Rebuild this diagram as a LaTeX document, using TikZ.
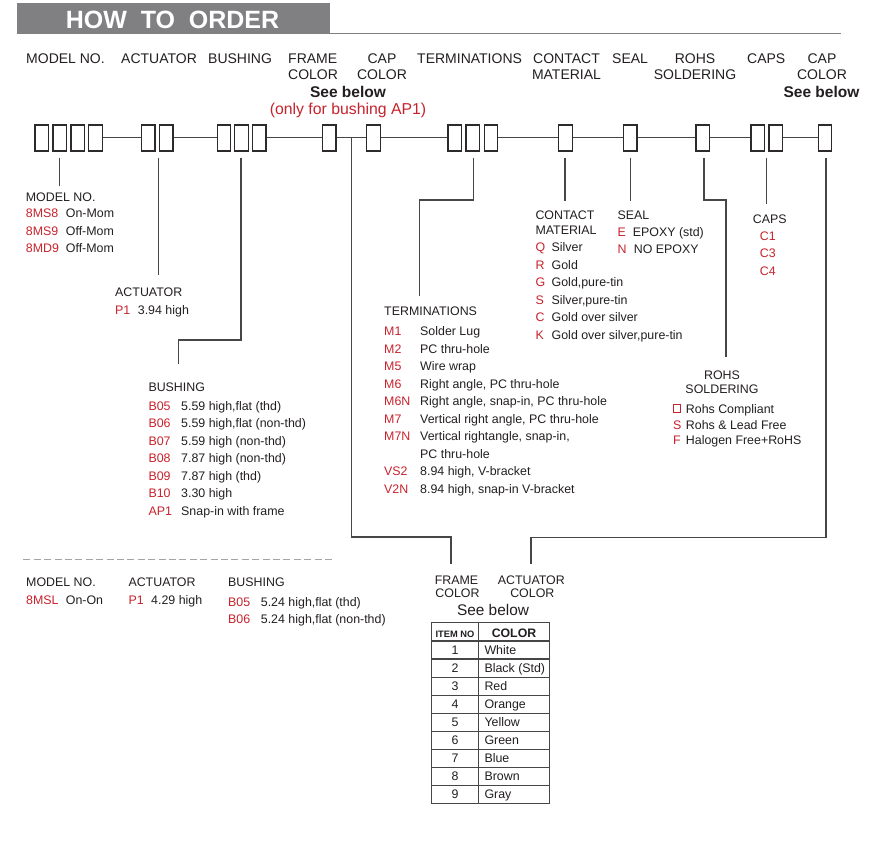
\documentclass[tikz,border=0pt]{standalone}
\usepackage{fontspec}
\setmainfont{Liberation Sans}
\definecolor{txt}{RGB}{35,31,32}
\definecolor{redc}{RGB}{200,35,45}
\definecolor{linec}{RGB}{70,70,70}
\definecolor{boxc}{RGB}{45,42,43}
\definecolor{hdrgray}{RGB}{128,128,131}
\definecolor{dashc}{RGB}{165,165,165}
\tikzset{
  box/.style={draw=boxc, line width=1.4pt, fill=white, minimum width=13.5pt, minimum height=26pt, inner sep=0pt},
  lead/.style={draw=linec, line width=1.1pt},
  hd/.style={font=\fontsize{14}{16}\selectfont, text=txt, inner sep=0pt, anchor=base west},
  hdc/.style={hd, anchor=base},
  bt/.style={font=\fontsize{12.4}{14}\selectfont, text=txt, inner sep=0pt, anchor=base west},
  btc/.style={bt, anchor=base},
  rc/.style={bt, text=redc},
  sb/.style={font=\bfseries\fontsize{15.5}{18}\selectfont, text=txt, inner sep=0pt, anchor=base},
  tab/.style={draw=linec, line width=1.1pt},
}
\begin{document}
\begin{tikzpicture}[x=1pt,y=-1pt]
\useasboundingbox (0,0) rectangle (881,849);
\fill[white] (0,0) rectangle (881,849);
% title bar
\draw[hdrgray, line width=1.2pt] (16.7,33.7) -- (841,33.7);
\fill[hdrgray] (16.7,3.3) rectangle (330,34.3);
\node[font=\bfseries\fontsize{25}{28}\selectfont, text=white, inner sep=0pt, anchor=base] (title) at (172.5,28.3) {HOW\ \ TO\ \ ORDER};
% header labels
\node[hd] (hMod) at (26,63.3) {MODEL NO.};
\node[hd] (hAct) at (121,63.3) {ACTUATOR};
\node[hd] (hBus) at (208,63.3) {BUSHING};
\node[hd] (hFr1) at (288,63.3) {FRAME};
\node[hd] (hFr2) at (288,79.3) {COLOR};
\node[hdc] (hCc1) at (382,63.3) {CAP};
\node[hdc] (hCc2) at (382,79.3) {COLOR};
\node[hd] (hTer) at (417,63.3) {TERMINATIONS};
\node[hdc] (hCm1) at (566.5,63.3) {CONTACT};
\node[hdc] (hCm2) at (566.5,79.3) {MATERIAL};
\node[hd] (hSeal) at (612,63.3) {SEAL};
\node[hdc] (hRo1) at (695,63.3) {ROHS};
\node[hdc] (hRo2) at (695,79.3) {SOLDERING};
\node[hd] (hCaps) at (747,63.3) {CAPS};
\node[hdc] (hCp1) at (822,63.3) {CAP};
\node[hdc] (hCp2) at (822,79.3) {COLOR};
\node[sb] (see1) at (348,97.3) {See below};
\node[font=\fontsize{15.8}{18}\selectfont, text=redc, inner sep=0pt, anchor=base] (only) at (348,114.5) {(only for bushing AP1)};
\node[sb] (see2) at (821.5,97.3) {See below};
% boxes
\foreach \n/\x in {m1/41.8, m2/59.8, m3/77.8, m4/95.5, a1/148.3, a2/166.3, b1/224, b2/241.5, b3/259.3, fr/329.2, cc/373.5, t1/454.8, t2/472.8, t3/491, cm/565.5, se/630.3, ro/702.8, c1/757.8, c2/775.7, cr/825}
  \node[box] (\n) at (\x,137.8) {};
% connecting line
\draw[lead] (m4.east) -- (a1.west);
\draw[lead] (a2.east) -- (b1.west);
\draw[lead] (b3.east) -- (fr.west);
\draw[lead] (fr.east) -- (cc.west);
\draw[lead] (cc.east) -- (t1.west);
\draw[lead] (t3.east) -- (cm.west);
\draw[lead] (cm.east) -- (se.west);
\draw[lead] (se.east) -- (ro.west);
\draw[lead] (ro.east) -- (c1.west);
\draw[lead] (c2.east) -- (cr.west);
% leader coordinates
\coordinate (mA) at (59.3,157.7); \coordinate (mB) at (59.3,185.7);
\coordinate (aA) at (158.3,157.7); \coordinate (aB) at (158.3,275);
\coordinate (bA) at (241,157.7); \coordinate (bB) at (241,340); \coordinate (bC) at (178.3,340); \coordinate (bD) at (178.3,364);
\coordinate (jA) at (351.7,137.8); \coordinate (jB) at (351.7,537); \coordinate (jC) at (451,537); \coordinate (jD) at (451,564.3);
\coordinate (tA) at (473.3,157.7); \coordinate (tB) at (473.3,200); \coordinate (tC) at (419.3,200); \coordinate (tD) at (419.3,296);
\coordinate (kA) at (565,157.7); \coordinate (kB) at (565,201);
\coordinate (sA) at (630.7,157.7); \coordinate (sB) at (630.7,201);
\coordinate (rA) at (704,157.7); \coordinate (rB) at (704,200); \coordinate (rC) at (726,200); \coordinate (rD) at (726,357);
\coordinate (pA) at (766.3,157.7); \coordinate (pB) at (766.3,204);
\coordinate (qA) at (826,157.7); \coordinate (qB) at (826,537.3); \coordinate (qC) at (531,537.3); \coordinate (qD) at (531,564.3);
\draw[lead] (mA) -- (mB);
\draw[lead] (aA) -- (aB);
\draw[lead] (bA) -- (bB) -- (bC) -- (bD);
\draw[lead] (jA) -- (jB) -- (jC) -- (jD);
\draw[lead] (tA) -- (tB) -- (tC) -- (tD);
\draw[lead] (kA) -- (kB);
\draw[lead] (sA) -- (sB);
\draw[lead] (rA) -- (rB) -- (rC) -- (rD);
\draw[lead] (pA) -- (pB);
\draw[lead] (qA) -- (qB) -- (qC) -- (qD);
% model no
\node[bt] (lMod) at (25.7,201) {MODEL NO.};
\foreach \c/\d/\y [count=\i] in {8MS8/On-Mom/217.7, 8MS9/Off-Mom/235, 8MD9/Off-Mom/252.3} {
  \node[rc] (mc\i) at (25.7,\y) {\c};
  \node[bt] (md\i) at (65.7,\y) {\d};
}
% actuator
\node[bt] (lAct) at (115,296) {ACTUATOR};
\node[rc] (ac1) at (115,314) {P1};
\node[bt] (ad1) at (137.7,314) {3.94 high};
% bushing
\node[bt] (lBus) at (148.3,391) {BUSHING};
\foreach \c/\d [count=\i] in {B05/{5.59 high,flat (thd)}, B06/{5.59 high,flat (non-thd)}, B07/{5.59 high (non-thd)}, B08/{7.87 high (non-thd)}, B09/{7.87 high (thd)}, B10/{3.30 high}, AP1/{Snap-in with frame}} {
  \node[rc] (bc\i) at (148.3,{410+17.5*(\i-1)}) {\c};
  \node[bt] (bd\i) at (181,{410+17.5*(\i-1)}) {\d};
}
% terminations
\node[bt] (lTer) at (384,315.7) {TERMINATIONS};
\foreach \c/\d [count=\i] in {M1/{Solder Lug}, M2/{PC thru-hole}, M5/{Wire wrap}, M6/{Right angle, PC thru-hole}, M6N/{Right angle, snap-in, PC thru-hole}, M7/{Vertical right angle, PC thru-hole}, M7N/{Vertical rightangle, snap-in,}, {}/{PC thru-hole}, VS2/{8.94 high, V-bracket}, V2N/{8.94 high, snap-in V-bracket}} {
  \node[rc] (tc\i) at (384,{335.7+17.51*(\i-1)}) {\c};
  \node[bt] (td\i) at (420,{335.7+17.51*(\i-1)}) {\d};
}
% contact material
\node[bt] (lCm1) at (535.3,219) {CONTACT};
\node[bt] (lCm2) at (535.3,234.3) {MATERIAL};
\foreach \c/\d [count=\i] in {Q/{Silver}, R/{Gold}, G/{Gold,pure-tin}, S/{Silver,pure-tin}, C/{Gold over silver}, K/{Gold over silver,pure-tin}} {
  \node[rc] (kc\i) at (535.3,{251.7+17.46*(\i-1)}) {\c};
  \node[bt] (kd\i) at (551.5,{251.7+17.46*(\i-1)}) {\d};
}
% seal
\node[bt] (lSeal) at (617.3,219) {SEAL};
\node[rc] (sc1) at (617.3,236.7) {E};
\node[bt] (sd1) at (632.7,236.7) {EPOXY (std)};
\node[rc] (sc2) at (617.3,253.7) {N};
\node[bt] (sd2) at (633.7,253.7) {NO EPOXY};
% caps
\node[bt] (lCaps) at (752.7,223) {CAPS};
\node[rc] (pc1) at (759.7,240.3) {C1};
\node[rc] (pc2) at (759.7,257.7) {C3};
\node[rc] (pc3) at (759.7,275) {C4};
% rohs
\node[btc] (lRo1) at (722,379.3) {ROHS};
\node[btc] (lRo2) at (722,393.7) {SOLDERING};
\node[draw=redc, line width=0.8pt, minimum width=7.5pt, minimum height=8.5pt, inner sep=0pt, anchor=south west] (rsq) at (672.7,412.9) {};
\node[bt] (rd1) at (685.7,413.3) {Rohs Compliant};
\node[rc] (rc2) at (673,429) {S};
\node[bt] (rd2) at (685.7,429) {Rohs \& Lead Free};
\node[rc] (rc3) at (673,444.6) {F};
\node[bt] (rd3) at (685.7,444.6) {Halogen Free+RoHS};
% frame / actuator color
\node[btc] (fc1) at (456.5,584.3) {FRAME};
\node[btc] (fc2) at (457.5,597.7) {COLOR};
\node[btc] (ac1b) at (531.3,584.3) {ACTUATOR};
\node[btc] (ac2b) at (532.3,597.7) {COLOR};
\node[font=\fontsize{15.4}{18}\selectfont, text=txt, inner sep=0pt, anchor=base] (see3) at (493,615) {See below};
% table
\draw[tab] (431.5,622.7) rectangle (549.3,803.3);
\draw[tab] (478.3,622.7) -- (478.3,803.3);
\foreach \k in {0,...,8} \draw[tab] (431.5,{641+18.033*\k}) -- (549.3,{641+18.033*\k});
\node[font=\bfseries\fontsize{9.3}{11}\selectfont, text=txt, inner sep=0pt, anchor=base] (thA) at (455,637) {ITEM NO};
\node[font=\bfseries\fontsize{12.3}{14}\selectfont, text=txt, inner sep=0pt, anchor=base] (thB) at (514,637.5) {COLOR};
\foreach \d [count=\i] in {White, Black (Std), Red, Orange, Yellow, Green, Blue, Brown, Gray} {
  \node[btc] (tn\i) at (455,{654.5+18.033*(\i-1)}) {\i};
  \node[bt] (tv\i) at (484.3,{654.5+18.033*(\i-1)}) {\d};
}
% bottom section
\draw[dashc, line width=1.2pt, dash pattern=on 7pt off 3.4pt] (23.3,559.3) -- (333,559.3);
\node[bt] (xMod) at (26,586.7) {MODEL NO.};
\node[rc] (xmc) at (26,604) {8MSL};
\node[bt] (xmd) at (65.7,604) {On-On};
\node[bt] (xAct) at (128.3,586.7) {ACTUATOR};
\node[rc] (xac) at (128.3,604) {P1};
\node[bt] (xad) at (151,604) {4.29 high};
\node[bt] (xBus) at (228,586.7) {BUSHING};
\node[rc] (xbc1) at (228,606) {B05};
\node[bt] (xbd1) at (260.7,606) {5.24 high,flat (thd)};
\node[rc] (xbc2) at (228,623.3) {B06};
\node[bt] (xbd2) at (260.7,623.3) {5.24 high,flat (non-thd)};
\end{tikzpicture}
\end{document}
